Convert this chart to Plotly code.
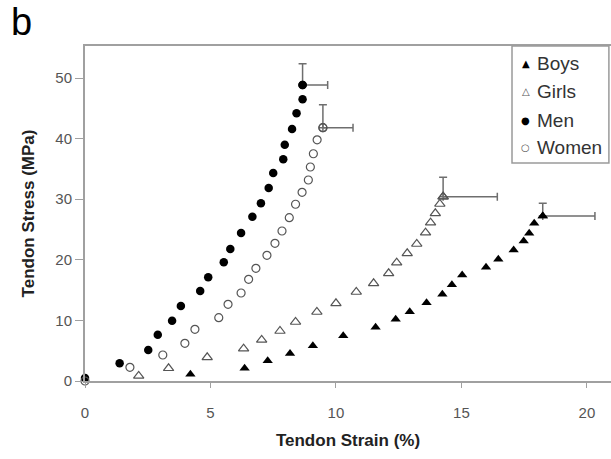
import plotly.graph_objects as go

# ---- data (strain %, stress MPa) ----
boys_strain = [4.20, 6.36, 7.28, 8.17, 9.08, 10.29, 11.58, 12.38, 12.94, 13.61,
               14.24, 14.62, 15.03, 15.98, 16.47, 17.08, 17.48, 17.70, 17.90, 18.24]
boys_stress = [1.11, 2.10, 3.35, 4.54, 5.83, 7.48, 8.86, 10.18, 11.44, 12.92,
               14.31, 15.89, 17.49, 18.76, 20.08, 21.62, 23.10, 24.37, 26.02, 27.23]
boys_err_strain = 2.08
boys_err_stress = 2.1

girls_strain = [2.14, 3.33, 4.87, 6.32, 7.04, 7.77, 8.39, 9.24, 10.00, 10.81,
                11.50, 12.10, 12.42, 12.84, 13.22, 13.57, 13.77, 13.96, 14.14, 14.27]
girls_stress = [0.83, 2.10, 3.91, 5.33, 6.77, 8.25, 9.74, 11.39, 12.82, 14.69,
                16.12, 17.77, 19.52, 21.07, 22.61, 24.47, 26.12, 27.67, 29.21, 30.41]
girls_err_strain = 2.16
girls_err_stress = 3.2

men_strain = [0.0, 1.38, 2.52, 2.90, 3.47, 3.82, 4.59, 4.91, 5.53, 5.79, 6.22,
              6.67, 7.01, 7.32, 7.50, 7.90, 7.96, 8.25, 8.43, 8.67, 8.67]
men_stress = [0.5, 2.92, 5.12, 7.64, 9.95, 12.38, 14.85, 17.11, 19.59, 21.78, 24.42,
              27.11, 29.32, 31.85, 34.32, 36.58, 38.99, 41.58, 44.17, 46.49, 48.84]
men_err_strain = 1.0
men_err_stress = 3.5

women_strain = [0.0, 1.79, 3.10, 3.98, 4.38, 5.33, 5.70, 6.22, 6.52, 6.81, 7.25,
                7.57, 7.85, 8.14, 8.39, 8.65, 8.90, 8.98, 9.10, 9.25, 9.48]
women_stress = [0.0, 2.26, 4.29, 6.22, 8.53, 10.45, 12.66, 14.52, 16.78, 18.60, 20.74,
                22.72, 24.75, 26.95, 29.17, 31.14, 33.17, 35.31, 37.5, 39.8, 41.8]
women_err_strain = 1.2
women_err_stress = 3.8

x_ticks = [0, 5, 10, 15, 20]
y_ticks = [0, 10, 20, 30, 40, 50]
legend_names = ["Boys", "Girls", "Men", "Women"]

FONT = "Liberation Sans, Arial, sans-serif"
ERR_COLOR = "#6e6e6e"

series = [
    ("Boys", boys_strain, boys_stress, boys_err_strain, boys_err_stress,
     dict(symbol="triangle-up", size=9, color="black")),
    ("Girls", girls_strain, girls_stress, girls_err_strain, girls_err_stress,
     dict(symbol="triangle-up-open", size=9, color="#555555", line=dict(width=1.2))),
    ("Men", men_strain, men_stress, men_err_strain, men_err_stress,
     dict(symbol="circle", size=8.5, color="black")),
    ("Women", women_strain, women_stress, women_err_strain, women_err_stress,
     dict(symbol="circle-open", size=8, color="#555555", line=dict(width=1.2))),
]

fig = go.Figure()
for name, xs, ys, ex, ey, mk in series:
    # error bars on the final (ultimate) point
    fig.add_trace(go.Scatter(
        x=[xs[-1]], y=[ys[-1]], mode="markers", marker=mk, showlegend=False,
        cliponaxis=False, hoverinfo="skip",
        error_x=dict(type="data", symmetric=False, array=[ex], arrayminus=[0],
                     color=ERR_COLOR, thickness=1.5, width=4),
        error_y=dict(type="data", symmetric=False, array=[ey], arrayminus=[0],
                     color=ERR_COLOR, thickness=1.5, width=4),
    ))
    fig.add_trace(go.Scatter(x=xs, y=ys, mode="markers", name=name, marker=mk,
                             showlegend=False, cliponaxis=False))

# manual legend (box + text)
L_X0, L_X1, L_Y0, L_Y1 = 0.8118, 0.996, 0.6507, 1.0
fig.add_shape(type="rect", xref="paper", yref="paper", x0=L_X0, x1=L_X1, y0=L_Y0, y1=L_Y1,
              line=dict(color="#9a9a9a", width=1.5), fillcolor="white", layer="above")
glyphs = [("▲", "black"), ("△", "#555555"), ("●", "black"), ("○", "#555555")]
ypos = [0.949, 0.863, 0.779, 0.696]
for (g, c), nm, yy in zip(glyphs, legend_names, ypos):
    fig.add_annotation(x=0.838, y=yy, xref="paper", yref="paper", text=g, showarrow=False,
                       font=dict(family="DejaVu Sans", size=10, color=c), xanchor="center",
                       yanchor="middle")
    fig.add_annotation(x=0.856, y=yy, xref="paper", yref="paper", text=nm, showarrow=False,
                       font=dict(family=FONT, size=19, color="#333333"), xanchor="left",
                       yanchor="middle")

fig.add_annotation(x=-0.145, y=1.072, xref="paper", yref="paper", text="b", showarrow=False,
                   xanchor="left", yanchor="middle",
                   font=dict(family=FONT, size=38, color="black"))

axis_common = dict(showgrid=False, zeroline=False, showline=True, linecolor="#a0a0a0",
                   linewidth=2, ticks="outside", tickcolor="#a0a0a0", tickwidth=1,
                   tickfont=dict(family=FONT, size=15, color="#555555"))

fig.update_layout(
    width=611, height=459, autosize=False,
    margin=dict(l=85, r=0, t=46, b=78),
    paper_bgcolor="white", plot_bgcolor="white",
    xaxis=dict(range=[0, 20.96], tickvals=x_ticks, ticklen=5, mirror=True,
               ticklabelstandoff=12,
               title=dict(text="<b>Tendon Strain (%)</b>", standoff=14,
                          font=dict(family=FONT, size=17, color="#222222")),
               **axis_common),
    yaxis=dict(range=[0, 55.28], tickvals=y_ticks, ticklen=8,
               title=dict(text="<b>Tendon Stress (MPa)</b>", standoff=16,
                          font=dict(family=FONT, size=17, color="#222222")),
               **axis_common),
)

fig.write_html("out.html")
